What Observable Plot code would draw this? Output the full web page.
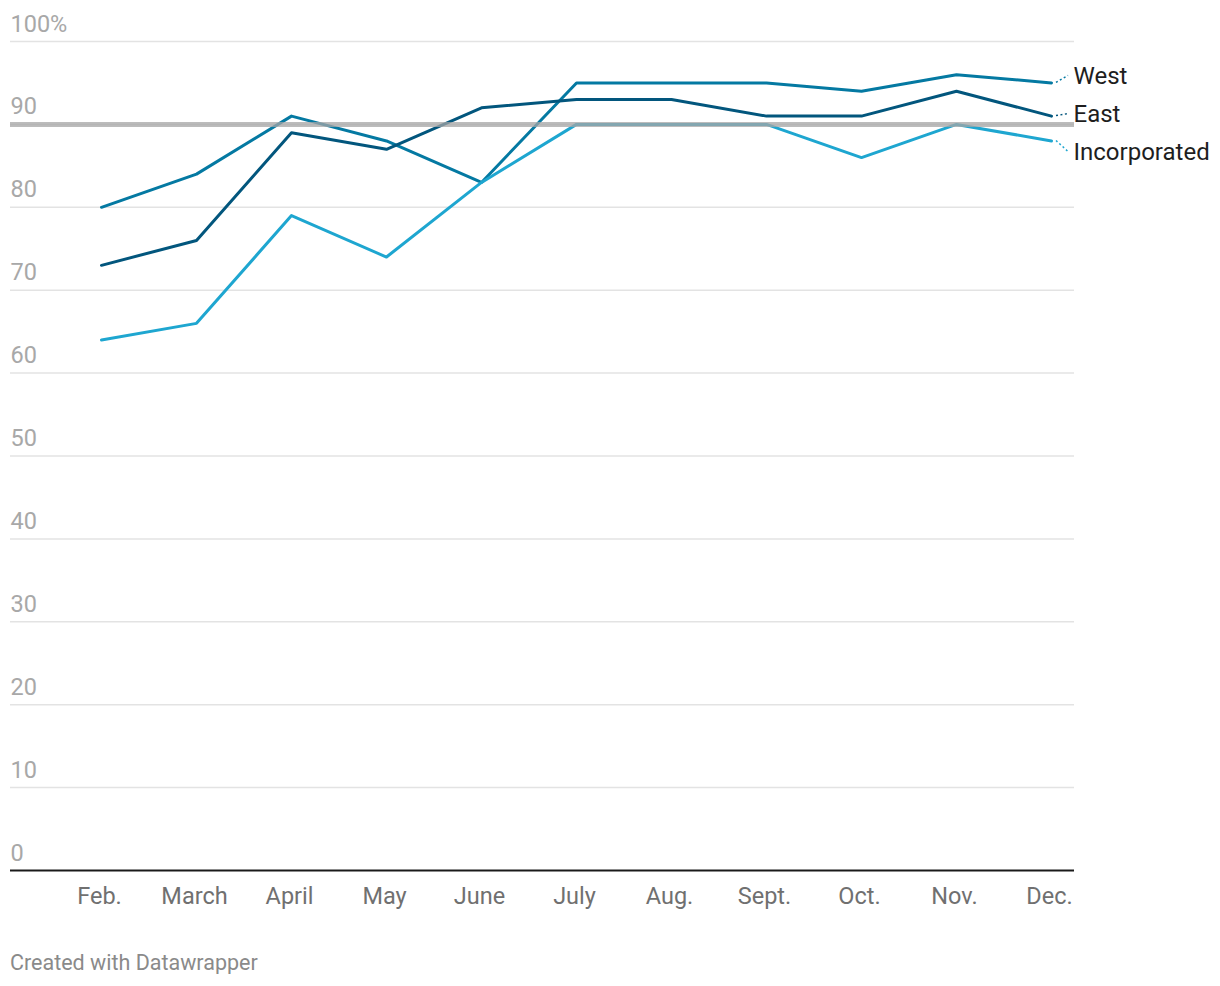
<!DOCTYPE html>
<html>
<head>
<meta charset="utf-8">
<script src="https://cdn.jsdelivr.net/npm/d3@7"></script>
<script src="https://cdn.jsdelivr.net/npm/@observablehq/plot@0.6"></script>
<style>
  body { margin: 0; background: #fff; font-family: Roboto, "Noto Sans", sans-serif; }
  #chart svg { display: block; }
  .footer { font-family: Roboto, sans-serif; font-size: 21.5px; color: #8a8a8a; margin: 32px 0 0 10px; line-height: 1; }
</style>
</head>
<body>
<div id="chart"></div>
<div class="footer">Created with Datawrapper</div>
<script>
const months = ["Feb.", "March", "April", "May", "June", "July", "Aug.", "Sept.", "Oct.", "Nov.", "Dec."];
const west = [80, 84, 91, 88, 83, 95, 95, 95, 94, 96, 95];
const east = [73, 76, 89, 87, 92, 93, 93, 91, 91, 94, 91];
const incorporated = [64, 66, 79, 74, 83, 90, 90, 90, 86, 90, 88];
const seriesNames = ["West", "East", "Incorporated"];
const seriesColors = ["#0479a2", "#02567d", "#1ea6d0"];
const yTicks = [0, 10, 20, 30, 40, 50, 60, 70, 80, 90, 100];
const target = 90;

const seriesValues = [west, east, incorporated];
const rows = [];
seriesNames.forEach((s, i) => months.forEach((m, j) => rows.push({series: s, month: m, value: seriesValues[i][j]})));
const lastRows = seriesNames.map((s, i) => ({series: s, month: months[months.length - 1], value: seriesValues[i][months.length - 1]}));
const labelNudge = {West: -7, East: -2, Incorporated: 11};
const colorOf = Object.fromEntries(seriesNames.map((s, i) => [s, seriesColors[i]]));

const connectors = (index, scales) => {
  const g = d3.create("svg:g");
  lastRows.forEach(d => {
    const x = scales.x(d.month), y = scales.y(d.value);
    g.append("line")
      .attr("x1", x + 5).attr("y1", y)
      .attr("x2", x + 17).attr("y2", y + labelNudge[d.series])
      .attr("stroke", colorOf[d.series]).attr("stroke-width", 1.5)
      .attr("stroke-dasharray", "2,2.5");
  });
  return g.node();
};

const labelMarks = seriesNames.map(s => Plot.text(lastRows.filter(d => d.series === s), {
  x: "month", y: "value", text: "series", dx: 22, dy: labelNudge[s],
  textAnchor: "start", fontSize: 24, fill: "#1e1e1e"
}));

const chart = Plot.plot({
  width: 1220,
  height: 920,
  marginTop: 41,
  marginBottom: 50,
  marginLeft: 10,
  marginRight: 146,
  style: {fontFamily: "Roboto, sans-serif", background: "#fff", overflow: "visible"},
  x: {type: "point", domain: months, range: [97, 1054], padding: 0},
  y: {domain: [0, 100], range: [870, 41], axis: null},
  marks: [
    Plot.ruleY(yTicks.filter(t => t > 0), {stroke: "#e3e3e3", strokeWidth: 1.5}),
    Plot.text(yTicks, {
      y: d => d, text: d => d === 100 ? "100%" : String(d),
      frameAnchor: "left", textAnchor: "start", lineAnchor: "bottom",
      dy: -10, fontSize: 23.5, fill: "#a8a8a8"
    }),
    Plot.lineY(rows, {x: "month", y: "value", z: "series", stroke: d => colorOf[d.series], strokeWidth: 3}),
    Plot.ruleY([target], {stroke: "#a6a6a6", strokeWidth: 5, strokeOpacity: 0.75}),
    Plot.ruleY([0], {stroke: "#1a1a1a", strokeWidth: 2}),
    Plot.axisX({tickSize: 0, tickPadding: 17, fontSize: 23.5, fill: "#707070", label: null, dx: -2}),
    connectors,
    ...labelMarks
  ]
});

document.getElementById("chart").appendChild(chart);
</script>
</body>
</html>
